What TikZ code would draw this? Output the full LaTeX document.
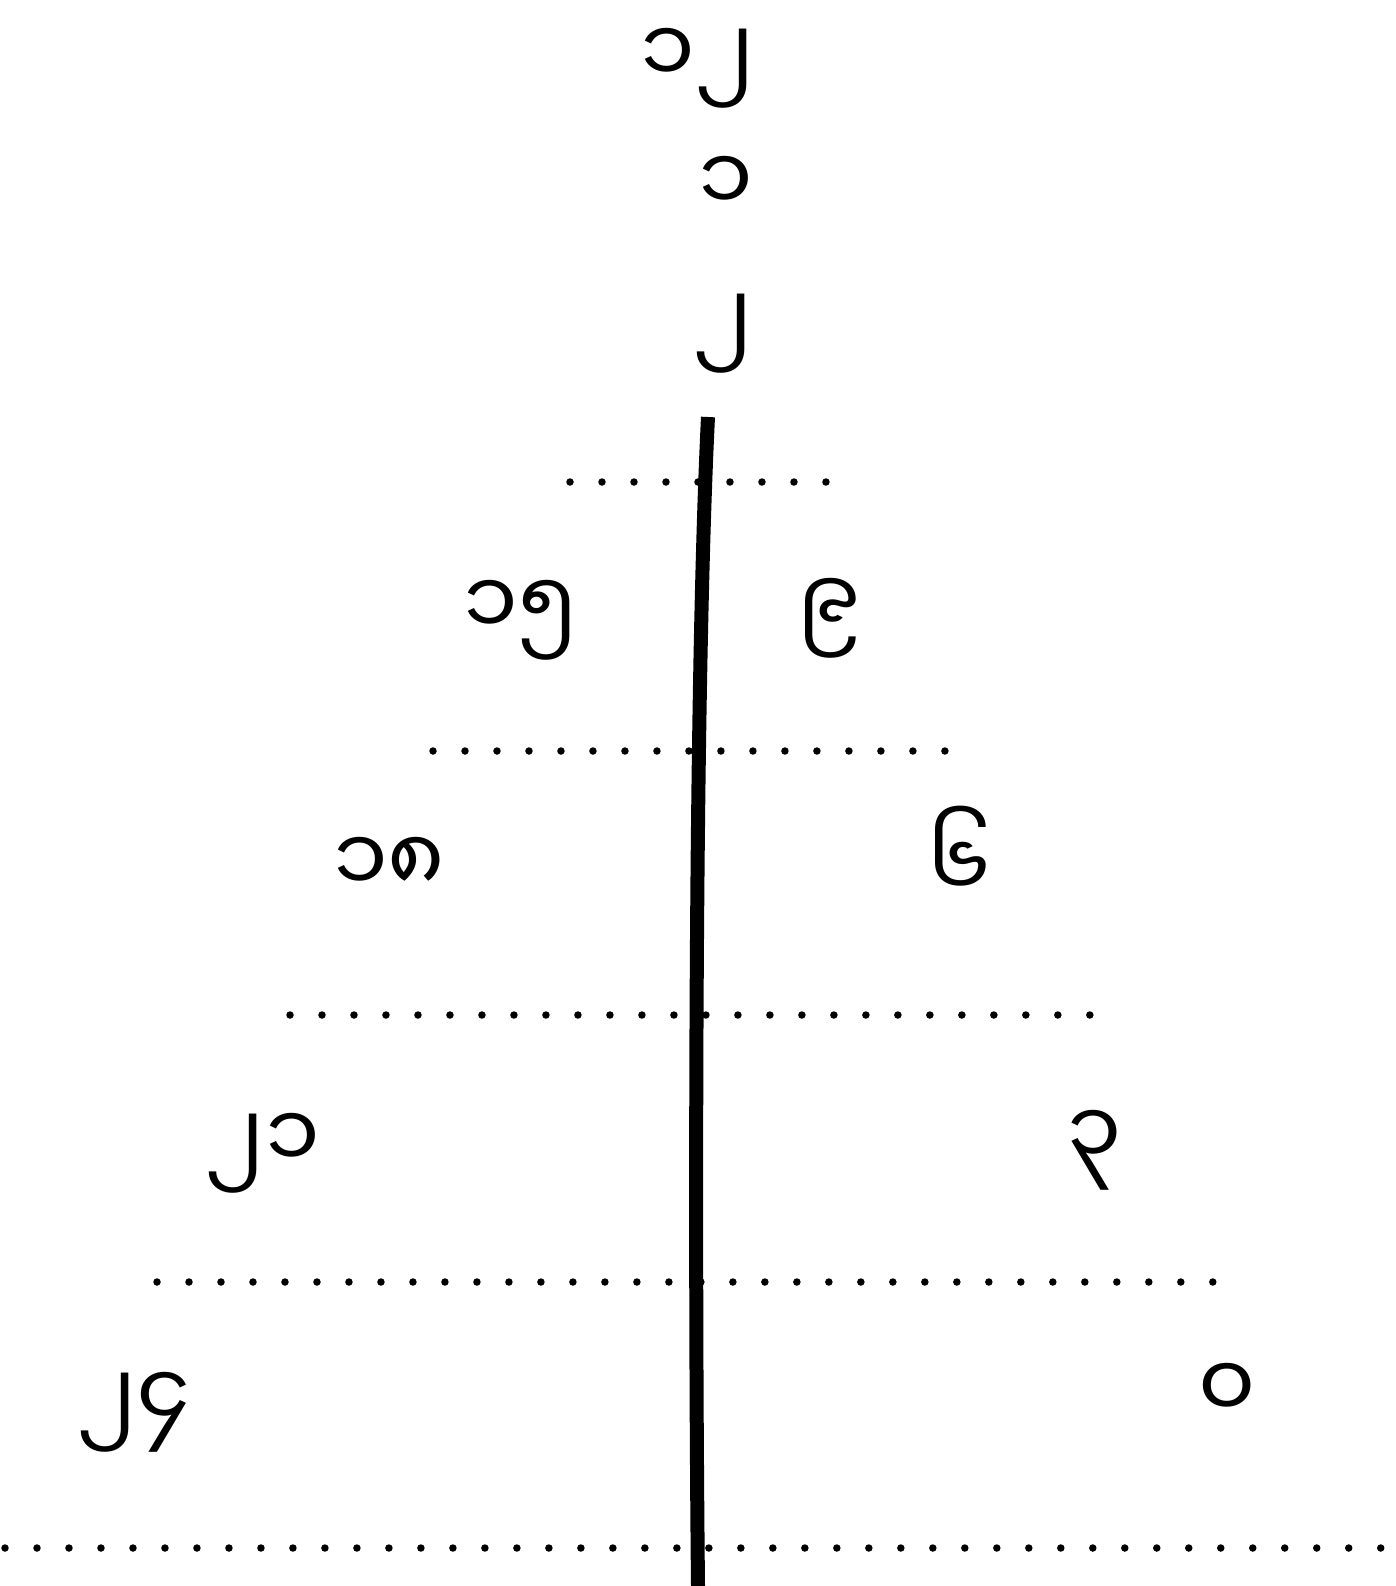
\documentclass[tikz,border=0pt]{standalone}
\usepackage{fontspec}
\newfontfamily\mymr[Script=Myanmar]{Noto Sans Myanmar UI}

\begin{document}
\begin{tikzpicture}[x=0.02cm,y=-0.02cm,
    num/.style={font=\mymr\fontsize{50}{50}\selectfont, inner sep=0pt},
    dotrow/.style={line width=0.15cm, line cap=round, dash pattern=on 0pt off 0.64cm}]
        \useasboundingbox (0,0) rectangle (1396,1586);

        % Numbers at the top
        \node[num] (top) at (698,68) {၁၂};
        \node[num] (one) at (726,184) {၁};
        \node[num] (two) at (723,334) {၂};

        % Left and right columns
        \node[num] (l15) at (521,620) {၁၅};
        \node[num] (r9)  at (829,618) {၉};
        \node[num] (l18) at (389,865) {၁၈};
        \node[num] (r6)  at (959,852) {၆};
        \node[num] (l21) at (263,1153) {၂၁};
        \node[num] (r3)  at (1095,1150) {၃};
        \node[num] (l24) at (134,1412) {၂၄};
        \node[num] (r0)  at (1227,1391) {၀};

        % Dotted rows
        \foreach \y/\xa/\xb in {482/570/834, 751/433/963, 1015/290/1102, 1282/157/1239, 1548/5/1386} {
            \draw[dotrow] (\xa,\y) -- (\xb,\y);
        }

        % Trunk
        \draw[line width=0.28cm] (708,417) .. controls (694,700) and (695,1300) .. (698,1586);
\end{tikzpicture}
\end{document}
